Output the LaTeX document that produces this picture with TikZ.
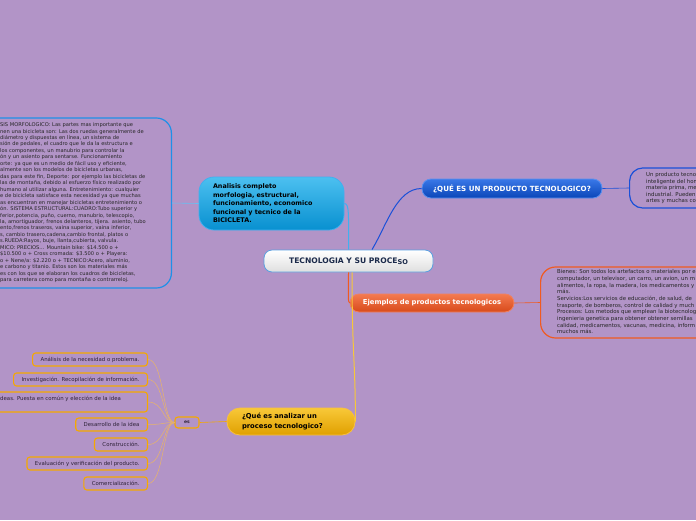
\documentclass[tikz,border=0pt]{standalone}
\usepackage{fontspec}
\setmainfont{DejaVu Sans}
\usetikzlibrary{calc}
\definecolor{bg}{RGB}{178,148,199}
\definecolor{lbtop}{HTML}{4CC0F0}
\definecolor{lbbot}{HTML}{0890D0}
\definecolor{lbdraw}{HTML}{40B0F0}
\definecolor{boxblue}{HTML}{1E90E8}
\definecolor{dbtop}{HTML}{3A78E8}
\definecolor{dbbot}{HTML}{0A46B8}
\definecolor{dbdraw}{HTML}{5A90F0}
\definecolor{boxdblue}{HTML}{1A50D8}
\definecolor{ortop}{HTML}{F47A50}
\definecolor{orbot}{HTML}{D84A1A}
\definecolor{ordraw}{HTML}{F08060}
\definecolor{boxorange}{HTML}{F05A20}
\definecolor{yetop}{HTML}{F8C838}
\definecolor{yebot}{HTML}{E0A000}
\definecolor{yedraw}{HTML}{F8C040}
\definecolor{listor}{HTML}{F5A800}
\definecolor{listline}{HTML}{E8B468}
\definecolor{cdraw}{HTML}{5AA0E0}
\definecolor{ctext}{HTML}{1B2A4A}
\definecolor{txtgray}{HTML}{262626}
\definecolor{listtxt}{HTML}{2E2238}
\tikzset{
  smalltxt/.style={font=\fontsize{5.4}{6.5}\selectfont, text=txtgray, align=left, inner sep=0pt, anchor=north west},
  listbox/.style={draw=listor, line width=1.1pt, rounded corners=3pt, font=\fontsize{5.4}{6}\selectfont, text=listtxt, minimum height=13pt, inner xsep=8pt, inner ysep=0pt, anchor=east},
  listlink/.style={draw=listline, line width=0.5pt},
  bigbox/.style={line width=1.2pt, rounded corners=15pt, fill=none},
}
\begin{document}
\begin{tikzpicture}[x=1pt,y=-1pt]
\useasboundingbox (0,0) rectangle (696,520);
\fill[bg] (0,0) rectangle (696,520);

% center
\node[draw=cdraw, line width=0.8pt, rounded corners=8pt, top color=white, bottom color=gray!25,
  minimum width=169pt, minimum height=22pt, inner sep=0pt, text=ctext,
  font=\bfseries\fontsize{7.6}{9}\selectfont] (center) at (348.5,261)
  {TECNOLOGIA Y SU PROCE\raisebox{-0.6pt}{\fontsize{6.6}{8}\selectfont SO}};

% analisis
\node[draw=lbdraw, line width=0.8pt, rounded corners=15pt, top color=lbtop, bottom color=lbbot,
  minimum width=145pt, minimum height=53pt, inner sep=0pt, text width=117pt, align=left,
  font=\bfseries\fontsize{6.4}{8.5}\selectfont, text=black] (analisis) at (271.5,203.5)
  {Analisis completo\\morfologia, estructural,\\funcionamiento, economico\\funcional y tecnico de la\\BICICLETA.};

% left big box
\node[bigbox, draw=boxblue, minimum width=220pt, minimum height=170pt, anchor=east] (leftbox) at (172,203) {};
\node[smalltxt, font=\fontsize{5.15}{6.46}\selectfont] (lefttext) at (0,122.5) {SIS MORFOLOGICO: Las partes mas importante que\\
nen una bicicleta son: Las dos ruedas generalmente de\\
 diámetro y dispuestas en línea, un sistema de\\
sión de pedales, el cuadro que le da la estructura e\\
 los componentes, un manubrio para controlar la\\
ón y un asiento para sentarse. Funcionamiento\\
orte: ya que es un medio de fácil uso y eficiente,\\
almente son los modelos de bicicletas urbanas,\\
das para este fin, Deporte: por ejemplo las bicicletas de\\
las de montaña, debido al esfuerzo físico realizado por\\
humano al utilizar alguna. Entretenimiento: cualquier\\
e de bicicleta satisface esta necesidad ya que muchas\\
as encuentran en manejar bicicletas entretenimiento o\\
ón. SISTEMA ESTRUCTURAL:CUADRO:Tubo superior y\\
ferior,potencia, puño, cuerno, manubrio, telescopio,\\
la, amortiguador, frenos delanteros, tijera. asiento, tubo\\
ento,frenos traseros, vaina superior, vaina inferior,\\
s, cambio trasero,cadena,cambio frontal, platos o\\
s.RUEDA:Rayos, buje, llanta,cubierta, valvula.\\
MICO: PRECIOS... Mountain bike: \$14.500 o +\\
\$10.500 o + Cross cromada: \$3.500 o + Playera:\\
o + Nene/a: \$2.220 o + TECNICO:Acero, aluminio,\\
e carbono y titanio. Estos son los materiales más\\
es con los que se elaboran los cuadros de bicicletas,\\
para carretera como para montaña o contrarreloj.};

% dark blue
\node[draw=dbdraw, line width=0.8pt, rounded corners=9pt, top color=dbtop, bottom color=dbbot,
  minimum width=180pt, minimum height=19pt, inner sep=0pt, text=white,
  font=\bfseries\fontsize{7.1}{8}\selectfont] (producto) at (512,188.5)
  {¿QUÉ ES UN PRODUCTO TECNOLOGICO?};

\node[bigbox, draw=boxdblue, rounded corners=13pt, minimum width=100pt, minimum height=40pt, anchor=west] (rightbox1) at (629,188) {};
\node[smalltxt] (righttext1) at (646,172.5) {Un producto tecno\\inteligente del hom\\materia prima, me\\industrial. Pueden\\artes y muchas co};

% ejemplos
\node[draw=ordraw, line width=0.8pt, rounded corners=9pt, top color=ortop, bottom color=orbot,
  minimum width=164pt, minimum height=18pt, inner sep=0pt, text=white,
  font=\bfseries\fontsize{6.8}{8}\selectfont] (ejemplos) at (432,303)
  {Ejemplos de productos tecnologicos};

\node[bigbox, draw=boxorange, minimum width=200pt, minimum height=71pt, anchor=west] (rightbox2) at (540,302.5) {};
\node[smalltxt, font=\fontsize{5.4}{6.67}\selectfont] (righttext2) at (557,269.5) {Bienes: Son todos los artefactos o materiales por e\\
computador, un televisor, un carro, un avion, un m\\
alimentos, la ropa, la madera, los medicamentos y\\
más.\\
Servicios:Los servicios de educación, de salud, de\\
trasporte, de bomberos, control de calidad y much\\
Procesos: Los metodos que emplean la biotecnolog\\
ingenieria genetica para obtener obtener semillas\\
calidad, medicamentos, vacunas, medicina, inform\\
muchos más.};

% yellow
\node[draw=yedraw, line width=0.8pt, rounded corners=13pt, top color=yetop, bottom color=yebot,
  minimum width=128pt, minimum height=27pt, inner sep=0pt, text width=98pt, align=left, text=black,
  font=\bfseries\fontsize{6.8}{9.5}\selectfont] (analizar) at (291,421.5)
  {¿Qué es analizar un\\proceso tecnologico?};

\node[draw=listor, line width=1.1pt, rounded corners=3pt, minimum width=24pt, minimum height=11pt,
  inner sep=0pt, font=\bfseries\fontsize{4.5}{5}\selectfont, text=listtxt] (es) at (187,422.5) {es};

% list
\node[listbox] (l1) at (148,359.5) {Análisis de la necesidad o problema.};
\node[listbox] (l2) at (148,379.5) {Investigación. Recopilación de información.};
\node[listbox, minimum width=180pt, minimum height=20pt] (l3) at (148,402) {};
\node[font=\fontsize{5.4}{6}\selectfont, text=listtxt, inner sep=0pt, anchor=west] (l3t) at (0,398.5) {deas. Puesta en común y elección de la idea};
\node[listbox] (l4) at (148,424.5) {Desarrollo de la idea};
\node[listbox] (l5) at (148,444.5) {Construcción.};
\node[listbox] (l6) at (148,463.5) {Evaluación y verificación del producto.};
\node[listbox] (l7) at (148,483.5) {Comercialización.};

% connectors
\coordinate (cb) at ($(center.north)+(23.5,0)$);
\coordinate (cy) at ($(center.south)+(3.5,0)$);
\draw[draw=lbdraw!80!white, line width=0.6pt] (leftbox.east) -- (analisis.west);
\draw[draw=lbdraw, line width=1pt] (center.north) .. controls +(0,-35) and +(5,0) .. (analisis.east);
\draw[draw=boxdblue, line width=1pt] (cb) .. controls +(15,-25) and +(-25,0) .. (producto.west);
\draw[draw=boxdblue, line width=0.6pt] (producto.east) -- (rightbox1.west);
\draw[draw=boxorange, line width=1pt] (center.south) .. controls +(0,20) and +(-2,0) .. (ejemplos.west);
\draw[draw=boxorange, line width=0.6pt] (ejemplos.east) -- (rightbox2.west);
\draw[draw=yetop, line width=1pt] (cy) .. controls +(0,80) and +(0,-60) .. (analizar.east);
\draw[draw=listor, line width=0.6pt] (analizar.west) -- (es.west -| es.east);
\foreach \n in {l1,l2,l3,l4,l5,l6,l7}{
  \draw[listlink] (\n.east) .. controls +(16,0) and +(-12,0) .. (es.west);
}
\end{tikzpicture}
\end{document}
